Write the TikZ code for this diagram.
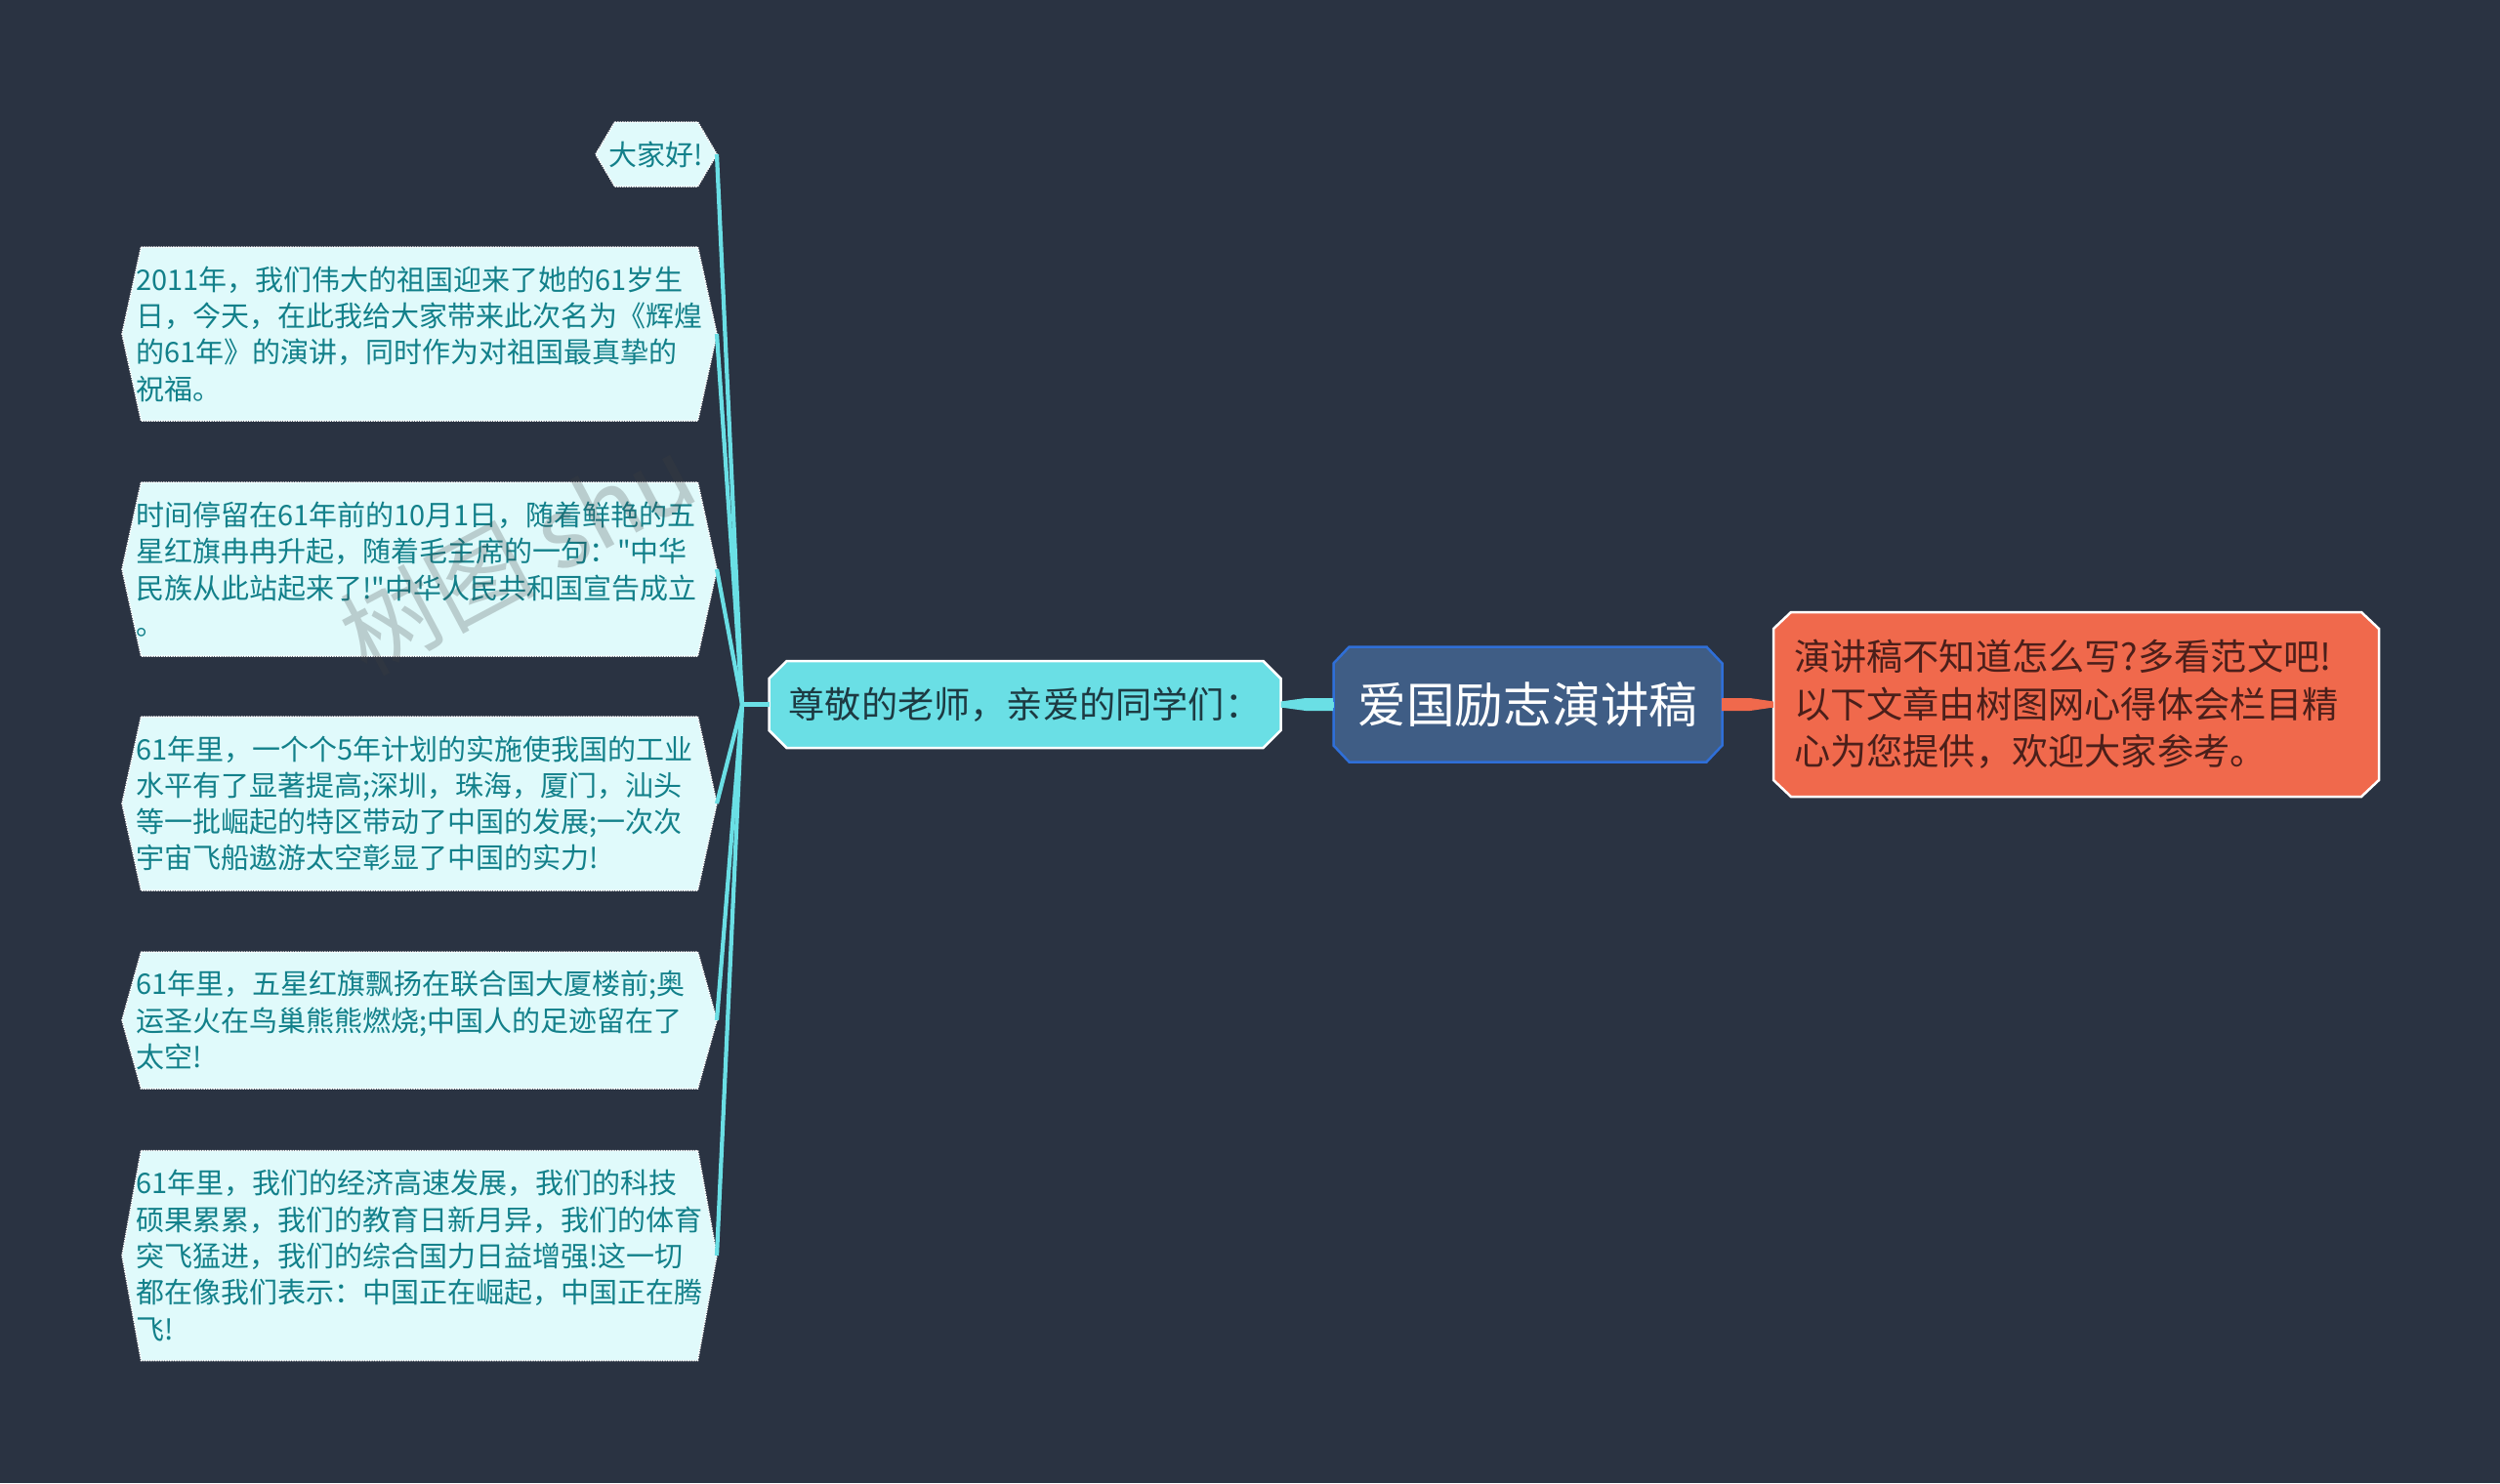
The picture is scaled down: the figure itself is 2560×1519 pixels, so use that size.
\documentclass[tikz,border=0pt]{standalone}
\usepackage{fontspec}
\newfontfamily\cjk{Noto Sans CJK SC}
\definecolor{bgdark}{HTML}{2A3342}
\definecolor{cyanfill}{HTML}{6ADFE5}
\definecolor{paleleaf}{HTML}{E0FAFB}
\definecolor{tealtext}{HTML}{12808A}
\definecolor{rootfill}{HTML}{3F5D85}
\definecolor{rootline}{HTML}{2F6FD8}
\definecolor{redfill}{HTML}{F0694C}
\definecolor{midtext}{HTML}{1D3A42}
\definecolor{redtext}{HTML}{4B1F1A}
\makeatletter
\pgfdeclareshape{cutbox}{
  \inheritsavedanchors[from=rectangle]
  \inheritanchorborder[from=rectangle]
  \inheritanchor[from=rectangle]{center}
  \inheritanchor[from=rectangle]{east}
  \inheritanchor[from=rectangle]{west}
  \backgroundpath{
    \pgfmathsetlengthmacro\cutw{\cutx}
    \pgfmathsetlengthmacro\cuth{\cuty}
    \southwest \edef\xl{\the\pgf@x}\edef\yl{\the\pgf@y}
    \northeast \edef\xr{\the\pgf@x}\edef\yr{\the\pgf@y}
    \pgfpathmoveto{\pgfqpoint{\dimexpr\xl+\cutw\relax}{\yr}}
    \pgfpathlineto{\pgfqpoint{\dimexpr\xr-\cutw\relax}{\yr}}
    \pgfpathlineto{\pgfqpoint{\xr}{\dimexpr\yr-\cuth\relax}}
    \pgfpathlineto{\pgfqpoint{\xr}{\dimexpr\yl+\cuth\relax}}
    \pgfpathlineto{\pgfqpoint{\dimexpr\xr-\cutw\relax}{\yl}}
    \pgfpathlineto{\pgfqpoint{\dimexpr\xl+\cutw\relax}{\yl}}
    \pgfpathlineto{\pgfqpoint{\xl}{\dimexpr\yl+\cuth\relax}}
    \pgfpathlineto{\pgfqpoint{\xl}{\dimexpr\yr-\cuth\relax}}
    \pgfpathclose
  }
}
\makeatother
\tikzset{
  x=1pt, y=-1pt,
  cut x/.store in=\cutx, cut y/.store in=\cuty,
  box/.style={shape=cutbox, inner sep=0pt, outer sep=0pt, align=left},
  leaf/.style={box, fill=paleleaf, draw=white, densely dotted, line width=1.5pt, text=tealtext,
    font=\cjk\fontsize{29}{37.3}\selectfont, cut x=19.5pt, cut y=#1/2, minimum height=#1},
  textleaf/.style={leaf=#1, minimum width=609pt, text width=581pt},
  branch/.style={draw=cyanfill, line width=4.2pt},
}
\begin{document}
\begin{tikzpicture}
    % 背景
    \fill[bgdark] (0,0) rectangle (2560,1519);
    \useasboundingbox (0,0) rectangle (2560,1519);
    \coordinate (H) at (760, 721.5);

    % 节点
    \node[box, fill=rootfill, draw=rootline, line width=2.5pt, text=white, minimum width=398pt, minimum height=118pt,
      cut x=16pt, cut y=17pt, font=\cjk\fontsize{49.7}{60}\selectfont] (R) at (1564.5, 721.5) {爱国励志演讲稿};
    \node[box, fill=cyanfill, draw=white, line width=2.5pt, text=midtext, minimum width=524pt, minimum height=89pt,
      cut x=18pt, cut y=18pt, font=\cjk\fontsize{37.2}{44}\selectfont] (M) at (1049.5, 721.5) {尊敬的老师，亲爱的同学们：};
    \node[box, fill=redfill, draw=white, line width=2.5pt, text=redtext, minimum width=620pt, minimum height=189pt, text width=578pt,
      cut x=18pt, cut y=17pt, font=\cjk\fontsize{37.2}{48.5}\selectfont] (T) at (2126, 721.5)
      {演讲稿不知道怎么写?多看范文吧!\\以下文章由树图网心得体会栏目精\\心为您提供，欢迎大家参考。};

    \node[leaf=66pt, minimum width=124pt] (A) at (672, 158) {大家好!};
    \node[textleaf=178pt] (B) at (429.5, 342)
      {2011年，我们伟大的祖国迎来了她的61岁生\\日，今天，在此我给大家带来此次名为《辉煌\\的61年》的演讲，同时作为对祖国最真挚的\\祝福。};
    \node[textleaf=178pt] (C) at (429.5, 583)
      {时间停留在61年前的10月1日，随着鲜艳的五\\星红旗冉冉升起，随着毛主席的一句："中华\\民族从此站起来了!"中华人民共和国宣告成立\\。};
    \node[textleaf=178pt] (D) at (429.5, 823)
      {61年里，一个个5年计划的实施使我国的工业\\水平有了显著提高;深圳，珠海，厦门，汕头\\等一批崛起的特区带动了中国的发展;一次次\\宇宙飞船遨游太空彰显了中国的实力!};
    \node[textleaf=140pt] (E) at (429.5, 1045)
      {61年里，五星红旗飘扬在联合国大厦楼前;奥\\运圣火在鸟巢熊熊燃烧;中国人的足迹留在了\\太空!};
    \node[textleaf=215pt] (F) at (429.5, 1286)
      {61年里，我们的经济高速发展，我们的科技\\硕果累累，我们的教育日新月异，我们的体育\\突飞猛进，我们的综合国力日益增强!这一切\\都在像我们表示：中国正在崛起，中国正在腾\\飞!};

    % 水印
    \node[rotate=28, text=black!75, text opacity=.24, font=\cjk\fontsize{100}{100}\selectfont] (W) at (530, 568) {树图 shu};

    % 连线
    \draw[branch] (H) -- (A.east);
    \draw[branch] (H) -- (B.east);
    \draw[branch] (H) -- (C.east);
    \draw[branch] (H) -- (D.east);
    \draw[branch] (H) -- (E.east);
    \draw[branch] (H) -- (F.east);
    \draw[branch] (H) -- (M);
    \draw[draw=cyanfill, line width=6pt] (M) -- (R);
    \draw[draw=redfill, line width=6pt] (R) -- (T);
    \fill[cyanfill] ([yshift=3pt]M.east) -- (1337,715) -- (1365,715) -- (1365,728) -- (1337,728) -- ([yshift=-3pt]M.east) -- cycle;
    \fill[redfill] ([yshift=3pt]T.west) -- (1792,715) -- (1763,715) -- (1763,728) -- (1792,728) -- ([yshift=-3pt]T.west) -- cycle;
  \end{tikzpicture}
\end{document}
